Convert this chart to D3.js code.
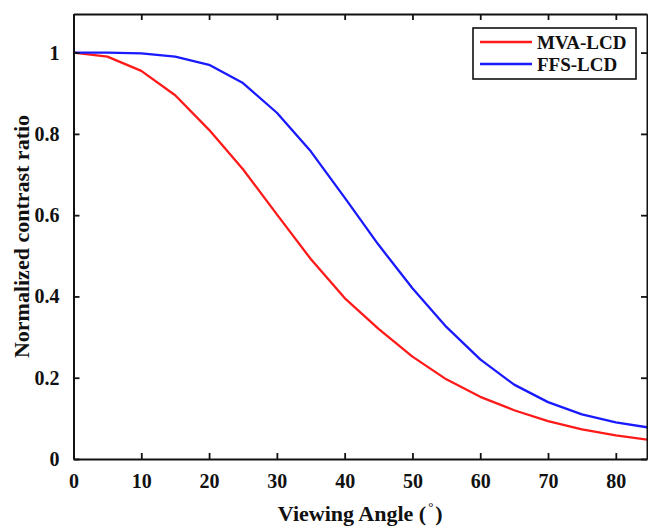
<!DOCTYPE html>
<html><head><meta charset="utf-8">
<script src="https://cdn.jsdelivr.net/npm/d3@7"></script>
<style>
html,body{margin:0;padding:0;background:#fff;}
svg{display:block;}
text{font-family:"Liberation Serif","Times New Roman",serif;font-weight:bold;fill:#111;}
</style></head>
<body>
<svg id="chart" width="648" height="528"></svg>
<script>
const angles = [0,5,10,15,20,25,30,35,40,45,50,55,60,65,70,75,80,85];
const mvaLCD = [1.0,0.99,0.955,0.895,0.81,0.713,0.602,0.492,0.396,0.32,0.252,0.196,0.153,0.12,0.093,0.073,0.058,0.047];
const ffsLCD = [1.0,1.0,0.998,0.99,0.97,0.925,0.852,0.757,0.643,0.527,0.42,0.325,0.245,0.183,0.14,0.11,0.09,0.077];
const xTicks = [0,10,20,30,40,50,60,70,80];
const yTicks = [0,0.2,0.4,0.6,0.8,1];
const yTickLabels = ["0","0.2","0.4","0.6","0.8","1"];
const seriesNames = ["MVA-LCD","FFS-LCD"];
const seriesColors = ["#ff1a1a","#1a1aff"];

const svg = d3.select("#chart");
const L = 73.5, R = 647, T = 14, B = 459;
const x = d3.scaleLinear().domain([0,84.6]).range([L,R]);
const y = d3.scaleLinear().domain([0,1.095]).range([B,T]);

svg.append("clipPath").attr("id","clip").append("rect")
  .attr("x",L).attr("y",T).attr("width",R-L).attr("height",B-T);

const series = [mvaLCD, ffsLCD];
const line = d3.line().x((d,i)=>x(angles[i])).y(d=>y(d));
const g = svg.append("g").attr("clip-path","url(#clip)");
series.forEach((s,k)=>{
  g.append("path").datum(s).attr("d",line)
   .attr("fill","none").attr("stroke",seriesColors[k]).attr("stroke-width",2.3)
   .attr("stroke-linejoin","round");
});

function styleAxis(sel){
  sel.selectAll("path.domain").attr("stroke","#111").attr("stroke-width",2);
  sel.selectAll(".tick line").attr("stroke","#111").attr("stroke-width",1.8);
}
const ax = svg.append("g").attr("transform",`translate(0,${B})`)
  .call(d3.axisBottom(x).tickValues(xTicks).tickSizeInner(-6).tickSizeOuter(0).tickPadding(15).tickFormat(d3.format("d")));
ax.selectAll("text").attr("font-size",20).style("font-family","'Liberation Serif',serif").style("font-weight","bold").attr("fill","#111");
styleAxis(ax);
const axT = svg.append("g").attr("transform",`translate(0,${T})`)
  .call(d3.axisTop(x).tickValues(xTicks).tickSizeInner(-6).tickSizeOuter(0).tickFormat(""));
styleAxis(axT);
const ay = svg.append("g").attr("transform",`translate(${L},0)`)
  .call(d3.axisLeft(y).tickValues(yTicks).tickSizeInner(-6).tickSizeOuter(0).tickPadding(14).tickFormat((d,i)=>yTickLabels[i]));
ay.selectAll("text").attr("font-size",20).style("font-family","'Liberation Serif',serif").style("font-weight","bold").attr("fill","#111");
styleAxis(ay);
const ayR = svg.append("g").attr("transform",`translate(${R},0)`)
  .call(d3.axisRight(y).tickValues(yTicks).tickSizeInner(-6).tickSizeOuter(0).tickFormat(""));
styleAxis(ayR);

const xl = svg.append("text").attr("x",(L+R)/2).attr("y",521).attr("text-anchor","middle").attr("font-size",22);
xl.append("tspan").text("Viewing Angle (");
xl.append("tspan").attr("font-size",13).attr("dy",-10).attr("dx",2).text("°");
xl.append("tspan").attr("dy",10).attr("dx",2).text(")");

svg.append("text").attr("transform",`translate(29,${(T+B)/2}) rotate(-90)`)
  .attr("text-anchor","middle").attr("font-size",22).text("Normalized contrast ratio");

const lg = svg.append("g");
lg.append("rect").attr("x",473).attr("y",28).attr("width",163).attr("height",51)
  .attr("fill","#fff").attr("stroke","#111").attr("stroke-width",1.6);
seriesNames.forEach((n,k)=>{
  const yy = 42 + k*22;
  lg.append("line").attr("x1",480).attr("x2",532).attr("y1",yy).attr("y2",yy)
    .attr("stroke",seriesColors[k]).attr("stroke-width",2.3);
  lg.append("text").attr("x",537).attr("y",yy+7).attr("font-size",19).text(n);
});
</script>
</body></html>
